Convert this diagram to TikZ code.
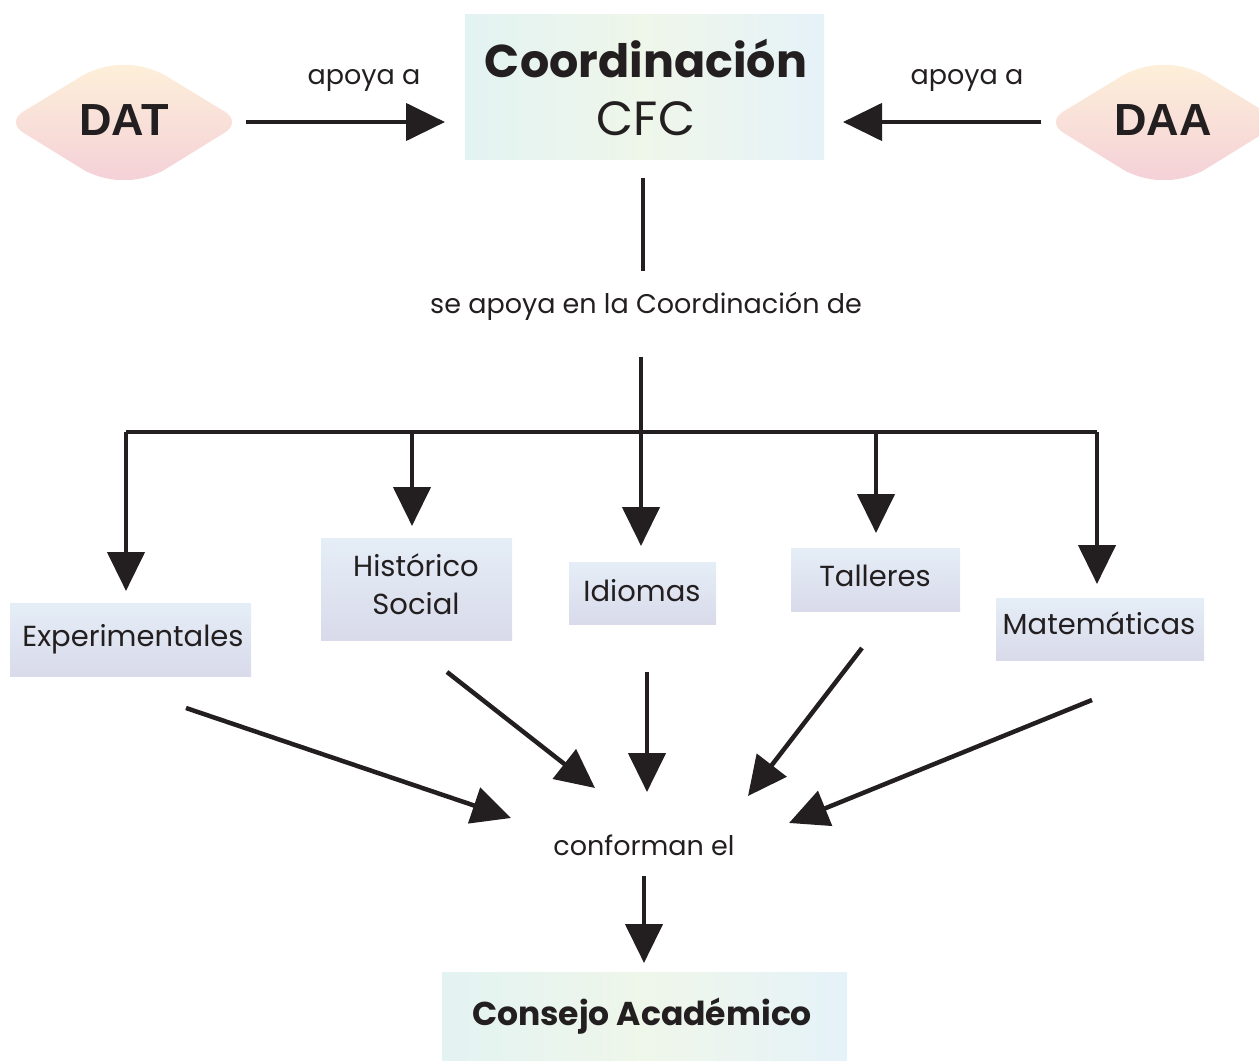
\documentclass[tikz,border=0pt]{standalone}
\usepackage{fontspec}
\setmainfont{Poppins}
\newfontfamily\arialb{Liberation Sans}[BoldFont={* Bold}]
\usetikzlibrary{arrows.meta}
\definecolor{ink}{HTML}{231F20}
\definecolor{cream}{HTML}{FDEFD9}
\definecolor{pinkish}{HTML}{F4D1D8}
\definecolor{boxtop}{HTML}{E5EEF7}
\definecolor{boxbot}{HTML}{D9DAEA}
\definecolor{cyl}{HTML}{E3F3F2}
\definecolor{cym}{HTML}{EFF6EA}
\definecolor{cyr}{HTML}{E5F2F8}
\tikzset{
  conn/.style={draw=ink, line width=4.5pt, -{Triangle[length=39pt,width=37pt]}},
  bar/.style={draw=ink, line width=4.5pt},
  unitbox/.style={inner sep=0pt, top color=boxtop, bottom color=boxbot, draw=none, text=ink, font=\fontsize{29}{37}\selectfont, align=center},
  mainbox/.style={inner sep=0pt, left color=cyl, right color=cyr, middle color=cym, draw=none, text=ink, align=center},
  lbl/.style={text=ink, inner sep=0pt, font=\fontsize{27}{32}\selectfont},
  hexa/.style={top color=cream, bottom color=pinkish, draw=none, rounded corners=20pt}
}
\begin{document}
\begin{tikzpicture}[x=1pt,y=-1pt]
\useasboundingbox (0,0) rectangle (1259,1062);
% side hexagons
\path[hexa] (6,122) -- (100,65) -- (148,65) -- (242,122) -- (148,180) -- (100,180) -- cycle;
\path[hexa] (1046,122) -- (1140,65) -- (1188,65) -- (1282,122) -- (1188,180) -- (1140,180) -- cycle;
\node[text=ink, font=\arialb\bfseries\fontsize{45}{50}\selectfont] (dat) at (124,120) {DAT};
\node[text=ink, font=\arialb\bfseries\fontsize{45}{50}\selectfont] (daa) at (1163,120) {DAA};
% main box
\node[mainbox, minimum width=359pt, minimum height=145pt] (cfc) at (644.5,87.5) {};
\node[text=ink, font=\bfseries\fontsize{46}{50}\selectfont, inner sep=0pt] (cfct) at (646,59) {Coordinación};
\node[text=ink, font=\fontsize{48}{50}\selectfont, inner sep=0pt] (cfcs) at (646,119) {CFC};
% side arrows
\coordinate (datE) at (246,122);
\coordinate (cfcW) at (445,122);
\coordinate (daaW) at (1041,122);
\coordinate (cfcE) at (843,122);
\draw[conn] (datE) -- (cfcW);
\draw[conn] (daaW) -- (cfcE);
\node[lbl] (ap1) at (364,80) {apoya a};
\node[lbl] (ap2) at (967,80) {apoya a};
% down
\coordinate (cfcS) at (643,178);
\coordinate (apT) at (643,271);
\draw[bar] (cfcS) -- (apT);
\node[lbl] (apoya) at (646,306) {se apoya en la Coordinación de};
\coordinate (apB) at (641,357);
\coordinate (bl) at (126,432);
\coordinate (br) at (1097,432);
\draw[bar] (bl) -- (br);
% unit boxes
\node[unitbox, minimum width=241pt, minimum height=73pt] (exp) at (130.5,639.5) {};
\node[text=ink, font=\fontsize{29}{37}\selectfont, inner sep=0pt] (expt) at (133,639) {Experimentales};
\node[unitbox, minimum width=191pt, minimum height=102pt] (his) at (416.5,589) {};
\node[text=ink, font=\fontsize{29}{38}\selectfont, inner sep=0pt, align=center] (hist) at (416,584) {Histórico\\Social};
\node[unitbox, minimum width=147pt, minimum height=62pt] (idi) at (642.5,593) {};
\node[text=ink, font=\fontsize{29}{37}\selectfont, inner sep=0pt] (idit) at (642,591) {Idiomas};
\node[unitbox, minimum width=169pt, minimum height=63pt] (tal) at (875.5,579.5) {};
\node[text=ink, font=\fontsize{29}{37}\selectfont, inner sep=0pt] (talt) at (875,576) {Talleres};
\node[unitbox, minimum width=208pt, minimum height=62pt] (mat) at (1100,629) {};
\node[text=ink, font=\fontsize{29}{37}\selectfont, inner sep=0pt] (matt) at (1099,623) {Matemáticas};
% down arrows
\coordinate (d1) at (126,591);
\coordinate (t2) at (412,432);
\coordinate (d2) at (412,526);
\coordinate (d3) at (641,546);
\coordinate (t4) at (876,432);
\coordinate (d4) at (876,533);
\coordinate (d5) at (1097,584);
\draw[conn] (bl) -- (d1);
\draw[conn] (t2) -- (d2);
\draw[conn] (apB) -- (d3);
\draw[conn] (t4) -- (d4);
\draw[conn] (br) -- (d5);
% converging arrows
\node[lbl] (conf) at (644,845) {conforman el};
\coordinate (e1) at (186,708);
\coordinate (f1) at (511,818);
\coordinate (e2) at (447,672);
\coordinate (f2) at (595,788);
\coordinate (e3) at (647,672);
\coordinate (f3) at (647,792);
\coordinate (e4) at (862,648);
\coordinate (f4) at (748,796);
\coordinate (e5) at (1092,700);
\coordinate (f5) at (789,823);
\draw[conn] (e1) -- (f1);
\draw[conn] (e2) -- (f2);
\draw[conn] (e3) -- (f3);
\draw[conn] (e4) -- (f4);
\draw[conn] (e5) -- (f5);
% final
\coordinate (cB) at (644,876);
\coordinate (cs) at (644,963);
\draw[conn] (cB) -- (cs);
\node[mainbox, minimum width=405pt, minimum height=88pt] (cons) at (644.5,1016) {};
\node[text=ink, font=\bfseries\fontsize{33}{40}\selectfont, inner sep=0pt] (const) at (642,1016) {Consejo Académico};
\end{tikzpicture}
\end{document}
